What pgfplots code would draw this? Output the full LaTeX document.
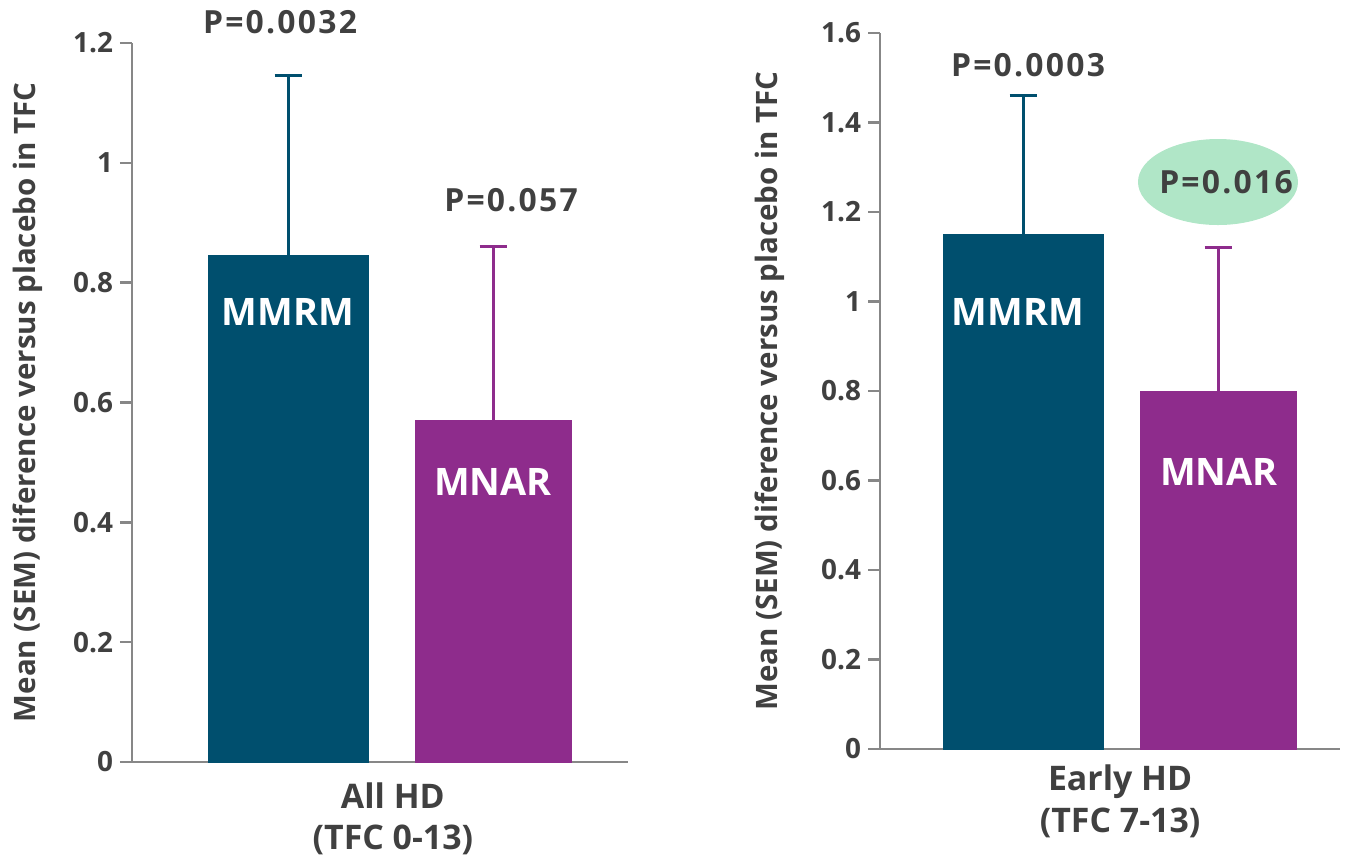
\documentclass[border=0pt]{standalone}
\usepackage{fontspec}
\setmainfont{Open Sans}
\usepackage{pgfplots}
\pgfplotsset{compat=1.18}
\definecolor{mmrm}{RGB}{0,79,110}
\definecolor{mnar}{RGB}{142,44,140}
\definecolor{txt}{RGB}{64,64,64}
\definecolor{axg}{RGB}{135,135,135}
\definecolor{oval}{RGB}{176,230,199}
\tikzset{
plab/.style={font=\fontsize{16}{18}\selectfont\bfseries\addfontfeatures{LetterSpace=7}, text=txt},
blab/.style={font=\fontsize{19}{21}\selectfont\bfseries, text=white},
}
\pgfplotsset{hdstyle/.style={
  scale only axis, clip=false,
  axis x line=bottom, axis y line=left,
  axis line style={-, draw=axg, line width=1.3bp},
  xtick=\empty, xmin=0, ymin=0,
  tick style={draw=axg, line width=1.3bp},
  major tick length=6bp, tick align=outside,
  y tick label style={font=\fontsize{14}{16}\selectfont\bfseries, text=txt},
  /pgf/number format/assume math mode=true,
  ybar, bar shift=0pt,
  xlabel style={font=\fontsize{17}{21}\selectfont\bfseries, text=txt, align=center, anchor=center},
  ylabel style={font=\fontsize{14.8}{17}\selectfont\bfseries, text=txt, anchor=center},
  error bars/y dir=plus, error bars/y explicit,
},
barA/.style={fill=mmrm, draw=mmrm, bar width=160,
  error bars/error bar style={mmrm, line width=1.5bp},
  error bars/error mark options={mmrm, line width=1.5bp, mark size=6.75bp, rotate=90}},
barB/.style={fill=mnar, draw=mnar, bar width=156,
  error bars/error bar style={mnar, line width=1.5bp},
  error bars/error mark options={mnar, line width=1.5bp, mark size=6.75bp, rotate=90}},
}
\begin{document}
\begin{tikzpicture}
\useasboundingbox (0,0) rectangle (672.5bp,429.5bp);
% Left panel
\begin{axis}[hdstyle,
  at={(66bp,48.5bp)}, anchor=south west,
  width=248bp, height=359.5bp,
  xmax=496, ymax=1.2,
  ytick={0,0.2,0.4,0.6,0.8,1,1.2},
  xlabel={All HD\\(TFC 0-13)},
  xlabel style={at={(axis description cs:0.526,-0.079)}},
  ylabel={Mean (SEM) diference versus placebo in TFC},
  ylabel style={at={(axis description cs:-0.21,0.5)}},
]
\addplot[barA] coordinates {(156,0.845) +- (0,0.30)};
\addplot[barB] coordinates {(361,0.57) +- (0,0.29)};
\node[plab] at (axis cs:148,1.235) {P=0.0032};
\node[plab] at (axis cs:379,0.938) {P=0.057};
\node[blab] at (axis cs:156,0.751) {MMRM};
\node[blab] at (axis cs:361,0.467) {MNAR};
\end{axis}
% Right panel
\begin{axis}[hdstyle,
  at={(440bp,55bp)}, anchor=south west,
  width=230bp, height=358bp,
  xmax=460, ymax=1.6,
  ytick={0,0.2,0.4,0.6,0.8,1,1.2,1.4,1.6},
  xlabel={Early HD\\(TFC 7-13)},
  xlabel style={at={(axis description cs:0.522,-0.073)}},
  ylabel={Mean (SEM) diference versus placebo in TFC},
  ylabel style={at={(axis description cs:-0.239,0.5)}},
]
\addplot[barA] coordinates {(143,1.15) +- (0,0.31)};
\addplot[barB] coordinates {(338,0.80) +- (0,0.32)};
\fill[oval] (axis cs:338,1.267) ellipse [x radius=40bp, y radius=21.5bp];
\node[plab] at (axis cs:148,1.528) {P=0.0003};
\node[plab] at (axis cs:346,1.267) {P=0.016};
\node[blab] at (axis cs:138,0.977) {MMRM};
\node[blab] at (axis cs:339,0.619) {MNAR};
\end{axis}
\end{tikzpicture}
\end{document}
